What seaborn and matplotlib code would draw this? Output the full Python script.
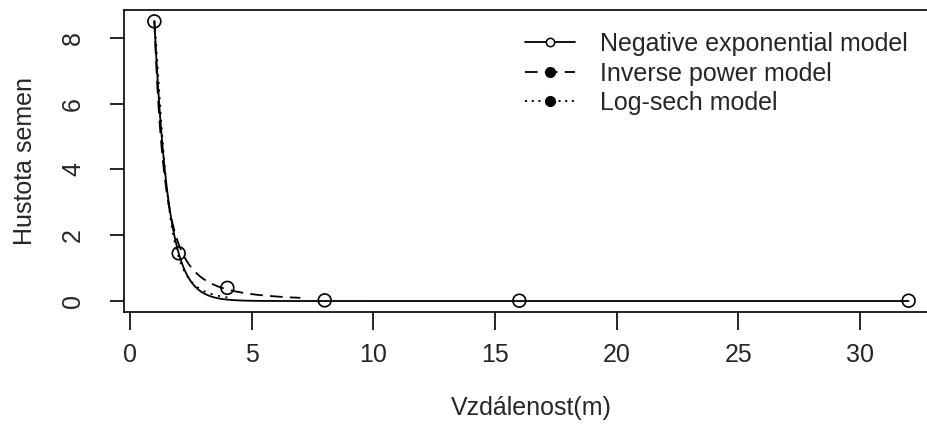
import numpy as np
import pandas as pd
import matplotlib
matplotlib.use("Agg")
import matplotlib.pyplot as plt
import seaborn as sns
from matplotlib.lines import Line2D

# Observed seed density at each distance from the source
distance = [1, 2, 4, 8, 16, 32]
density = [8.5, 1.45, 0.4, 0.02, 0.01, 0.01]

# Fitted model parameters and the distance span each curve is drawn over
negexp_a, negexp_b = 50.0, 1.77
invpow_a, invpow_b = 8.5, 2.3
logsech_a, logsech_s = 8.5, 0.38
negexp_span = (1, 32)
invpow_span = (1, 7)
logsech_span = (1, 4)

model_labels = ["Negative exponential model", "Inverse power model", "Log-sech model"]
x_ticks = [0, 5, 10, 15, 20, 25, 30]
y_ticks = [0, 2, 4, 6, 8]
x_title = "Vzdálenost(m)"
y_title = "Hustota semen"

sns.set_theme(style="ticks")
plt.rcParams["font.family"] = ["Liberation Sans", "DejaVu Sans"]

W, H = 928, 434
PT = 72 / 100  # points per pixel at 100 dpi
fig = plt.figure(figsize=(W / 100, H / 100), dpi=100)
# plot region in pixels: left edge, top edge, width, height
px_left, px_top, px_w, px_h = 124.2, 10.2, 814.6, 302.0
ax = fig.add_axes([px_left / W, 1 - (px_top + px_h) / H, px_w / W, px_h / H])


def negexp(x):
    return negexp_a * np.exp(-negexp_b * x)


def invpow(x):
    return invpow_a * x ** (-invpow_b)


def logsech(x):
    return logsech_a / (x * np.cosh(np.log(x) / logsech_s))


lw = 1.3
xs1 = np.linspace(*negexp_span, 500)
xs2 = np.linspace(*invpow_span, 300)
xs3 = np.linspace(*logsech_span, 300)
sns.lineplot(x=xs1, y=negexp(xs1), ax=ax, color="black", lw=lw,
             linestyle="-", sort=False, estimator=None)
sns.lineplot(x=xs2, y=invpow(xs2), ax=ax, color="black", lw=lw,
             linestyle=(0, (7, 4)), sort=False, estimator=None)
sns.lineplot(x=xs3, y=logsech(xs3), ax=ax, color="black", lw=lw,
             linestyle=(0, (1.2, 3)), sort=False, estimator=None)

pts = pd.DataFrame({"distance": distance, "density": density})
sns.scatterplot(data=pts, x="distance", y="density", ax=ax, s=85,
                marker="o", linewidth=1.2, zorder=5)
ax.collections[-1].set_facecolor("none")
ax.collections[-1].set_edgecolor("black")

fs = 18
ax.set_xlim(-0.24, 33.24)
ax.set_ylim(-0.34, 8.84)
ax.set_xticks(x_ticks)
ax.set_yticks(y_ticks)
ax.set_xticklabels([str(t) for t in x_ticks], fontsize=fs)
ax.set_yticklabels([str(t) for t in y_ticks], fontsize=fs, rotation=90,
                   va="center")
ax.tick_params(axis="x", length=18 * PT, width=1.2, pad=13 * PT, color="black")
ax.tick_params(axis="y", length=14 * PT, width=1.2, pad=25 * PT, color="black")
for s in ax.spines.values():
    s.set_visible(True)
    s.set_linewidth(1.2)
    s.set_color("black")
ax.set_xlabel(x_title, fontsize=fs)
ax.set_ylabel(y_title, fontsize=fs)
ax.xaxis.set_label_coords(0.5, (312 - 396) / px_h)
ax.yaxis.set_label_coords((37.5 - px_left) / px_w, 0.5)

handles = [
    Line2D([], [], color="black", lw=lw, ls="-", marker="o", ms=6,
           mfc="white", mec="black", mew=1.1),
    Line2D([], [], color="black", lw=lw, ls=(0, (7, 4)), marker="o", ms=7,
           mfc="black", mec="black"),
    Line2D([], [], color="black", lw=lw, ls=(0, (1.2, 2.5)), marker="o", ms=7,
           mfc="black", mec="black"),
]
ax.legend(handles, model_labels, loc="upper left",
          bbox_to_anchor=(525 / W, 1 - 32 / H), bbox_transform=fig.transFigure,
          frameon=False, fontsize=fs, handlelength=2.0, handletextpad=1.0,
          labelspacing=0.22, numpoints=1, borderaxespad=0, borderpad=0)

fig.savefig("out.png", dpi=100)
